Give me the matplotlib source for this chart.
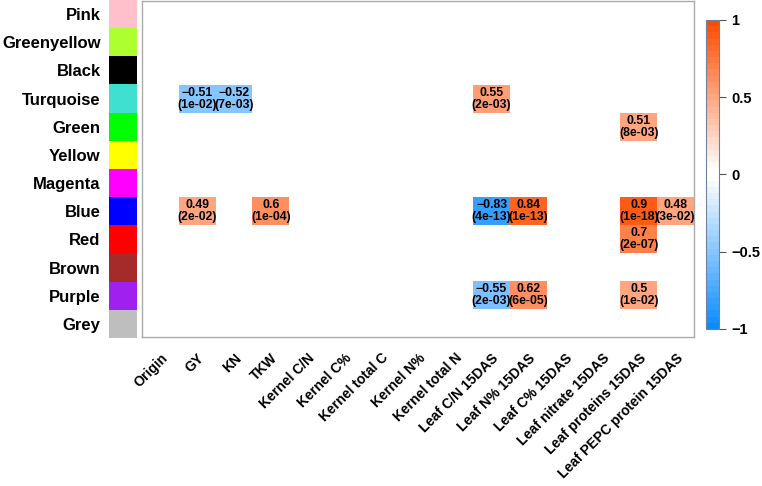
import numpy as np
import matplotlib
matplotlib.use("Agg")
import matplotlib.pyplot as plt
from matplotlib.colors import ListedColormap, Normalize
from matplotlib.cm import ScalarMappable
from matplotlib.patches import Rectangle

plt.rcParams['font.family'] = ['Liberation Sans', 'DejaVu Sans']
plt.rcParams['font.weight'] = 'bold'

modules = ["Pink", "Greenyellow", "Black", "Turquoise", "Green", "Yellow",
           "Magenta", "Blue", "Red", "Brown", "Purple", "Grey"]
module_colors = ["#FFC0CB", "#ADFF2F", "#000000", "#40E0D0", "#00FF00", "#FFFF00",
                 "#FF00FF", "#0000FF", "#FF0000", "#A52A2A", "#A020F0", "#BEBEBE"]
traits = ["Origin", "GY", "KN", "TKW", "Kernel C/N", "Kernel C%", "Kernel total C",
          "Kernel N%", "Kernel total N", "Leaf C/N 15DAS", "Leaf N% 15DAS",
          "Leaf C% 15DAS", "Leaf nitrate 15DAS", "Leaf proteins 15DAS",
          "Leaf PEPC protein 15DAS"]

# significant correlations (module, trait, r, p)
sig_module = ["Turquoise", "Turquoise", "Turquoise", "Green",
              "Blue", "Blue", "Blue", "Blue", "Blue", "Blue",
              "Red", "Purple", "Purple", "Purple"]
sig_trait = ["GY", "KN", "Leaf C/N 15DAS", "Leaf proteins 15DAS",
             "GY", "TKW", "Leaf C/N 15DAS", "Leaf N% 15DAS", "Leaf proteins 15DAS", "Leaf PEPC protein 15DAS",
             "Leaf proteins 15DAS", "Leaf C/N 15DAS", "Leaf N% 15DAS", "Leaf proteins 15DAS"]
sig_r = [-0.51, -0.52, 0.55, 0.51,
         0.49, 0.6, -0.83, 0.84, 0.9, 0.48,
         0.7, -0.55, 0.62, 0.5]
sig_p = [1e-02, 7e-03, 2e-03, 8e-03,
         2e-02, 1e-04, 4e-13, 1e-13, 1e-18, 3e-02,
         2e-07, 2e-03, 6e-05, 1e-02]

# WGCNA-like blueWhiteRed(50)
n = 50
half = n // 2
frac = np.arange(half) / (half - 1)
blue_end = np.array([0.05, 0.55, 1.0])
red_end = np.array([1.0, 0.3, 0.0])
white = np.array([1.0, 1.0, 1.0])
cols = [blue_end + (white - blue_end) * f for f in frac] + \
       [red_end + (white - red_end) * f for f in frac[::-1]]
cmap = ListedColormap(cols)
norm = Normalize(-1, 1)

nr, nc = len(modules), len(traits)
mat = np.full((nr, nc), np.nan)
for m, t, r in zip(sig_module, sig_trait, sig_r):
    mat[modules.index(m), traits.index(t)] = r

W, H = 762, 486
fig = plt.figure(figsize=(W / 100, H / 100), dpi=100)

ax = fig.add_axes([142 / W, 1 - 337 / H, (694 - 142) / W, (337 - 1) / H])
ax.pcolormesh(np.arange(nc + 1), np.arange(nr + 1), mat, cmap=cmap, norm=norm)
ax.set_xlim(0, nc)
ax.set_ylim(nr, 0)
for m, t, r, p in zip(sig_module, sig_trait, sig_r, sig_p):
    i, j = modules.index(m), traits.index(t)
    rs = str(r).replace("-", "\u2212")
    txt = rs + "\n(" + "{:.0e}".format(p) + ")"
    ax.text(j + 0.5, i + 0.5, txt, ha='center', va='center', fontsize=8.8,
            fontweight='bold', linespacing=0.95, color='black')
ax.set_yticks([])
ax.set_xticks(np.arange(nc) + 0.5)
ax.set_xticklabels(traits, rotation=45, ha='right', rotation_mode='anchor',
                   fontsize=10, fontweight='bold')
ax.tick_params(axis='x', length=0, pad=10)
for s in ax.spines.values():
    s.set_color('#AAAAAA')
    s.set_linewidth(1.0)

# module colour strip
sax = fig.add_axes([109 / W, 1 - 338 / H, 28 / W, 338 / H])
for i, c in enumerate(module_colors):
    sax.add_patch(Rectangle((0, i), 1, 1, facecolor=c, edgecolor='none'))
sax.set_xlim(0, 1)
sax.set_ylim(nr, 0)
sax.set_xticks([])
sax.set_yticks(np.arange(nr) + 0.5)
sax.set_yticklabels(modules, fontsize=12, fontweight='bold')
sax.tick_params(axis='y', length=0, pad=6)
for s in sax.spines.values():
    s.set_visible(False)

# colorbar
cax = fig.add_axes([706 / W, 1 - 329 / H, 13 / W, 309 / H])
cb = fig.colorbar(ScalarMappable(norm=norm, cmap=cmap), cax=cax)
cb.set_ticks([1, 0.5, 0, -0.5, -1])
cb.set_ticklabels(["1", "0.5", "0", "\u22120.5", "\u22121"])
cax.tick_params(length=5, width=0.8, color='#555555', labelsize=10.5, pad=4)
for lab in cax.get_yticklabels():
    lab.set_fontweight('bold')
cb.outline.set_edgecolor('#7080A0')
cb.outline.set_linewidth(0.8)

fig.savefig("out.png", dpi=100)
